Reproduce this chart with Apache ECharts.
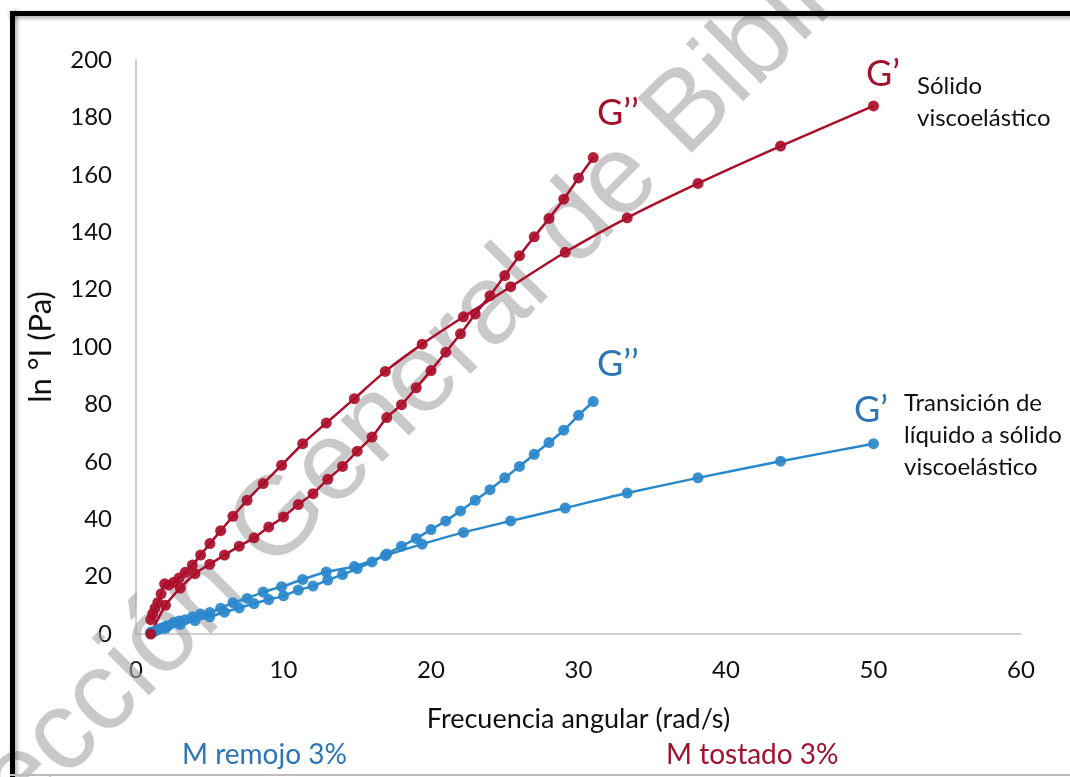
<!DOCTYPE html>
<html>
<head>
<meta charset="utf-8">
<script src="https://cdn.jsdelivr.net/npm/echarts@6/dist/echarts.min.js"></script>
<style>
html,body{margin:0;padding:0;background:#fff;}
#chart{width:1070px;height:777px;}
</style>
</head>
<body>
<div id="chart"></div>
<script>
// ---- data ----
var xTicks = [0, 10, 20, 30, 40, 50, 60];
var yTicks = [0, 20, 40, 60, 80, 100, 120, 140, 160, 180, 200];

// log-spaced frequencies (G')
var freqLog = [1.0, 1.13, 1.29, 1.48, 1.70, 1.94, 2.22, 2.55, 2.92, 3.34, 3.82, 4.38, 5.01, 5.74, 6.57, 7.53, 8.62, 9.87, 11.3, 12.9, 14.8, 16.9, 19.4, 22.2, 25.4, 29.1, 33.3, 38.1, 43.7, 50.0];
// linear frequencies (G'')
var freqLin = [1, 2, 3, 4, 5, 6, 7, 8, 9, 10, 11, 12, 13, 14, 15, 16, 17, 18, 19, 20, 21, 22, 23, 24, 25, 26, 27, 28, 29, 30, 31];

// M tostado 3%
var tostadoG1 = [5, 7, 9, 11, 14, 17.5, 17, 18, 19.5, 21.5, 24, 27.5, 31.5, 36, 41, 46.6, 52.4, 58.8, 66.3, 73.5, 82, 91.5, 101, 110.5, 121, 133, 145, 157, 170, 184];
var tostadoG2 = [0, 10, 16, 21, 24.3, 27.5, 30.6, 33.5, 37.3, 40.8, 45.1, 48.9, 53.9, 58.4, 63.7, 68.6, 75.4, 79.9, 85.8, 91.8, 98.2, 104.6, 111.5, 117.9, 124.9, 131.8, 138.4, 144.8, 151.5, 158.9, 166];

// M remojo 3%
var remojoG1 = [0.5, 0.8, 1, 1.5, 2, 2.5, 3, 4, 4.5, 5, 6, 7, 7.5, 9, 10.9, 12.4, 14.6, 16.5, 19, 21.6, 23.5, 27.3, 31.3, 35.4, 39.4, 43.9, 49.1, 54.4, 60.2, 66.3];
var remojoG2 = [0.5, 2, 3.3, 4.7, 6, 7.6, 9.1, 10.6, 12, 13.3, 15.3, 16.7, 18.8, 20.7, 22.8, 25.1, 27.9, 30.6, 33.3, 36.4, 39.4, 42.9, 46.6, 50.3, 54.4, 58.4, 62.6, 66.7, 71, 76.2, 81];

var RED = '#AA0E2B';
var BLUE = '#2A87CB';
var RED_TXT = '#A0122E';
var BLUE_TXT = '#2E75B6';
var FONT = 'Lato, "Open Sans", sans-serif';

function pairs(xs, ys) { return xs.map(function (x, i) { return [x, ys[i]]; }); }

function line(name, xs, ys, color) {
  return {
    name: name, type: 'line', data: pairs(xs, ys),
    smooth: 0.25, symbol: 'circle', symbolSize: 11,
    lineStyle: { color: color, width: 2.5 },
    itemStyle: { color: color, opacity: 0.92 },
    z: 5
  };
}

var chart = echarts.init(document.getElementById('chart'), null, { renderer: 'canvas' });
chart.setOption({
  animation: false,
  backgroundColor: '#fff',
  grid: { left: 136, right: 49, top: 60, bottom: 143 },
  xAxis: {
    type: 'value', min: 0, max: 60, interval: 10,
    axisLine: { show: true, lineStyle: { color: '#BFBFBF', width: 1.5 } },
    axisTick: { show: false }, splitLine: { show: false },
    axisLabel: { color: '#111', fontSize: 24, fontFamily: FONT, margin: 24,
      formatter: function (v) { return xTicks.indexOf(v) >= 0 ? String(v) : ''; } },
    name: 'Frecuencia angular (rad/s)', nameLocation: 'middle', nameGap: 72,
    nameTextStyle: { color: '#111', fontSize: 27, fontFamily: FONT }
  },
  yAxis: {
    type: 'value', min: 0, max: 200, interval: 20,
    axisLine: { show: true, lineStyle: { color: '#BFBFBF', width: 1.5 } },
    axisTick: { show: false }, splitLine: { show: false },
    axisLabel: { color: '#111', fontSize: 24, fontFamily: FONT, margin: 24,
      formatter: function (v) { return yTicks.indexOf(v) >= 0 ? String(v) : ''; } },
    name: 'ln °I (Pa)', nameLocation: 'middle', nameGap: 80, nameRotate: 90,
    nameTextStyle: { color: '#111', fontSize: 31, fontFamily: FONT }
  },
  series: [
    line("M remojo 3% G''", freqLin, remojoG2, BLUE),
    line("M remojo 3% G'", freqLog, remojoG1, BLUE),
    line("M tostado 3% G''", freqLin, tostadoG2, RED),
    line("M tostado 3% G'", freqLog, tostadoG1, RED)
  ],
  graphic: [
    // watermark
    { type: 'text', z: 1, zlevel: 0, x: -63, y: 943, rotation: Math.PI / 4,
      style: { text: 'Dirección General de Bibliotecas', fontSize: 112, fontFamily: '"Liberation Sans", Arial, sans-serif',
        fill: 'rgba(165,165,165,0.6)', textVerticalAlign: 'bottom' } },
    // annotations
    { type: 'text', z: 10, left: 597, top: 95, style: { text: "G’’", fontSize: 36, fontFamily: FONT, fill: RED_TXT } },
    { type: 'text', z: 10, left: 866, top: 56, style: { text: "G’", fontSize: 36, fontFamily: FONT, fill: RED_TXT } },
    { type: 'text', z: 10, left: 917, top: 70, style: { text: 'Sólido\nviscoelástico', fontSize: 24, lineHeight: 32, fontFamily: FONT, fill: '#111' } },
    { type: 'text', z: 10, left: 597, top: 346, style: { text: "G’’", fontSize: 36, fontFamily: FONT, fill: BLUE_TXT } },
    { type: 'text', z: 10, left: 854, top: 392, style: { text: "G’", fontSize: 36, fontFamily: FONT, fill: BLUE_TXT } },
    { type: 'text', z: 10, left: 904, top: 387, style: { text: 'Transición de\nlíquido a sólido\nviscoelástico', fontSize: 24, lineHeight: 32, fontFamily: FONT, fill: '#111' } },
    { type: 'text', z: 10, left: 182, top: 741, style: { text: 'M remojo 3%', fontSize: 28, fontFamily: FONT, fill: BLUE_TXT } },
    { type: 'text', z: 10, left: 666, top: 741, style: { text: 'M tostado 3%', fontSize: 28, fontFamily: FONT, fill: RED_TXT } },
    // frame
    { type: 'rect', z: 20, shape: { x: 10, y: 11, width: 1070, height: 5 }, style: { fill: '#000', shadowBlur: 4, shadowColor: 'rgba(0,0,0,0.35)', shadowOffsetY: 2 } },
    { type: 'rect', z: 20, shape: { x: 10, y: 11, width: 5, height: 800 }, style: { fill: '#000', shadowBlur: 4, shadowColor: 'rgba(0,0,0,0.35)', shadowOffsetX: 2 } },
    { type: 'rect', z: 20, shape: { x: 10, y: 774, width: 1070, height: 2 }, style: { fill: '#bbb' } }
  ]
});
</script>
</body>
</html>
